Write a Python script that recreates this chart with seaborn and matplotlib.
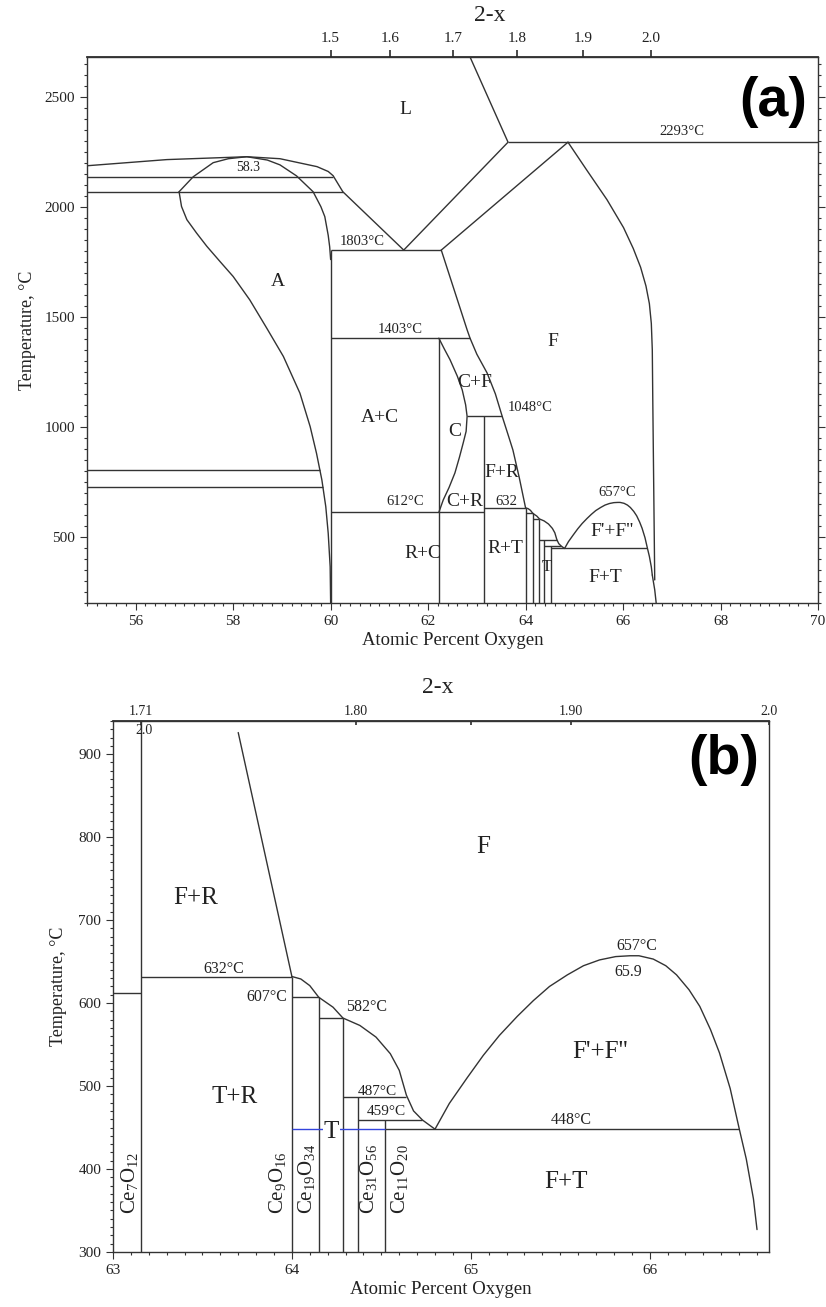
import numpy as np
import matplotlib
matplotlib.use("Agg")
import matplotlib.pyplot as plt
import seaborn as sns
from matplotlib.ticker import MultipleLocator

sns.set_theme(style="ticks")
plt.rcParams['font.family'] = ['Liberation Serif', 'DejaVu Serif']
plt.rcParams['mathtext.fontset'] = 'custom'
plt.rcParams['mathtext.rm'] = 'Liberation Serif'
plt.rcParams['mathtext.it'] = 'Liberation Serif:italic'

LC = '#333333'
TC = '#222222'

# ---------------- panel (a): full Ce-O diagram ----------------
LIQ_A_X = [55.0, 56.64, 58.28, 58.96, 59.72, 59.95, 60.05, 60.25, 61.5]
LIQ_A_T = [2186, 2214, 2227, 2218, 2182, 2160, 2141, 2068, 1803]
LIQ_B_X = [61.5, 63.64, 62.86]
LIQ_B_T = [1803, 2293, 2680]
DOME_X = [56.89, 57.18, 57.59, 57.9, 58.28, 58.7, 58.96, 59.3, 59.64, 59.8, 59.88, 59.95, 59.98, 60.0]
DOME_T = [2068, 2136, 2200, 2218, 2227, 2212, 2190, 2140, 2068, 2000, 1955, 1870, 1818, 1760]
A_LEFT_X = [56.89, 56.94, 57.05, 57.25, 57.46, 57.73, 58.0, 58.34, 58.69, 59.03, 59.37,
            59.58, 59.71, 59.82, 59.90, 59.95, 59.99, 60.0]
A_LEFT_T = [2068, 2001, 1941, 1880, 1820, 1751, 1683, 1577, 1448, 1320, 1153,
            1001, 880, 759, 638, 517, 365, 200]
F_SOL_X = [62.27, 64.87]
F_SOL_T = [1803, 2293]
F_RIGHT_X = [64.87, 65.25, 65.67, 66.01, 66.21, 66.36, 66.47, 66.54, 66.58, 66.60, 66.61, 66.65]
F_RIGHT_T = [2293, 2168, 2032, 1905, 1810, 1725, 1640, 1560, 1470, 1350, 1123, 305]
F_LEFT_X = [62.27, 62.80, 62.86, 63.0, 63.21, 63.38, 63.52, 63.64, 63.74, 63.87, 64.0]
F_LEFT_T = [1803, 1441, 1403, 1330, 1245, 1150, 1048, 965, 895, 770, 632]
C_X = [62.22, 62.33, 62.45, 62.60, 62.70, 62.77, 62.80, 62.78, 62.72, 62.64, 62.55, 62.43, 62.31, 62.22]
C_T = [1403, 1355, 1305, 1230, 1168, 1100, 1048, 980, 927, 860, 791, 725, 668, 612]
FFD_TAIL_X = [66.60, 66.65, 66.68]
FFD_TAIL_T = [327, 260, 200]

TIE_A_T = [2136, 2068, 805, 727, 1803, 2293, 1403, 1048, 612, 632]
TIE_A_X0 = [55.0, 55.0, 55.0, 55.0, 60.0, 63.64, 60.0, 62.80, 60.0, 63.15]
TIE_A_X1 = [60.05, 60.25, 59.78, 59.84, 62.27, 70.0, 62.86, 63.52, 63.15, 64.0]
VERT_A_X = [60.0, 62.22, 63.15]
VERT_A_TOP = [1803, 1403, 1048]

TOP_A_POS = [60.0, 61.22, 62.51, 63.82, 65.18, 66.57]
TOP_A_LAB = ['1.5', '1.6', '1.7', '1.8', '1.9', '2.0']

# ---------------- fine structure (shared by both panels) ----------------
FINE_X = [64.0, 64.05, 64.10, 64.15, 64.23, 64.285, 64.38, 64.47, 64.55, 64.60, 64.64, 64.68, 64.73, 64.80]
FINE_T = [632, 629, 621, 607, 595, 582, 573, 559, 539, 519, 489, 470, 459, 448]
COMP_X = [64.0, 64.15, 64.285, 64.37, 64.52]
COMP_TOP = [632, 607, 582, 487, 459]
SHELF_T = [607, 582, 487, 459, 448]
SHELF_X0 = [64.0, 64.15, 64.285, 64.37, 64.52]
SHELF_X1 = [64.15, 64.285, 64.64, 64.73, 66.50]
FFD_X = [64.80, 64.88, 64.98, 65.07, 65.16, 65.26, 65.35, 65.44, 65.54, 65.63, 65.72, 65.81, 65.89,
         65.94, 66.02, 66.09, 66.15, 66.22, 66.28, 66.34, 66.39, 66.45, 66.50, 66.54, 66.58, 66.60]
FFD_T = [448, 479, 510, 537, 561, 584, 603, 620, 634, 645, 652, 656, 657,
         657, 653, 645, 634, 616, 596, 568, 540, 497, 449, 412, 364, 327]

# ---------------- panel (b) extra ----------------
CE7_X = 63.156
FR_X = [63.70, 64.0]
FR_T = [926, 632]
TIE_B_T = [612, 632]
TIE_B_X0 = [63.0, 63.156]
TIE_B_X1 = [63.156, 64.0]
BLUE_T = 448
BLUE_X = [64.0, 64.52]
TOP_B_POS = [63.156, 64.36, 65.0, 65.56, 66.667]
TOP_B_LAB = ['1.71', '1.80', '', '1.90', '2.0']

XLIM_A, YLIM_A = (55, 70), (200, 2680)
XLIM_B, YLIM_B = (63, 66.667), (300, 940)


def curve(ax, xs, ts, color=LC):
    sns.lineplot(x=xs, y=ts, ax=ax, sort=False, estimator=None, color=color, lw=1.0)


def draw_fine(ax, tmin):
    curve(ax, FINE_X, FINE_T)
    curve(ax, FFD_X, FFD_T)
    ax.vlines(COMP_X, tmin, COMP_TOP, colors=LC, lw=1.0)
    ax.hlines(SHELF_T, SHELF_X0, SHELF_X1, colors=LC, lw=1.0)


def style_axes(ax):
    for s in ax.spines.values():
        s.set_color(LC)
        s.set_linewidth(1.0)
    ax.tick_params(which='both', direction='out', colors=LC, labelcolor=TC,
                   labelsize=11, width=0.8)
    ax.tick_params(which='major', length=5)
    ax.tick_params(which='minor', length=2.5)


fig = plt.figure(figsize=(8.26, 13.07), dpi=100)

# ================= (a) =================
ax = fig.add_axes([0.1053, 0.5386, 0.885, 0.4178])
curve(ax, LIQ_A_X, LIQ_A_T)
curve(ax, LIQ_B_X, LIQ_B_T)
curve(ax, DOME_X, DOME_T)
curve(ax, A_LEFT_X, A_LEFT_T)
curve(ax, F_SOL_X, F_SOL_T)
curve(ax, F_RIGHT_X, F_RIGHT_T)
curve(ax, F_LEFT_X, F_LEFT_T)
curve(ax, C_X, C_T)
curve(ax, FFD_TAIL_X, FFD_TAIL_T)
ax.hlines(TIE_A_T, TIE_A_X0, TIE_A_X1, colors=LC, lw=1.0)
ax.vlines(VERT_A_X, YLIM_A[0], VERT_A_TOP, colors=LC, lw=1.0)
draw_fine(ax, YLIM_A[0])

ax.set_xlim(*XLIM_A)
ax.set_ylim(*YLIM_A)
ax.xaxis.set_major_locator(MultipleLocator(2))
ax.xaxis.set_minor_locator(MultipleLocator(0.2))
ax.yaxis.set_major_locator(MultipleLocator(500))
ax.yaxis.set_minor_locator(MultipleLocator(50))
style_axes(ax)
ax.tick_params(axis='y', which='both', right=True)
ax.set_xlabel('Atomic Percent Oxygen', fontsize=13.5, color=TC, labelpad=3)
ax.set_ylabel('Temperature, \u00b0C', fontsize=13, color=TC, labelpad=6)

sec = ax.secondary_xaxis('top')
sec.set_xticks(TOP_A_POS, TOP_A_LAB)
sec.tick_params(direction='out', length=5, labelsize=11, colors=LC, labelcolor=TC)
fig.text(0.593, 0.988, '2-x', fontsize=17, ha='center', va='center', color=TC)

lab_a = [('L', 61.53, 2441, 14), ('A', 58.92, 1659, 14), ('F', 64.56, 1386, 14),
         ('A+C', 61.01, 1041, 14), ('C+F', 62.96, 1200, 14), ('C', 62.55, 977, 14),
         ('F+R', 63.52, 795, 14), ('R+C', 61.90, 427, 14), ('R+T', 63.58, 450, 14),
         ('C+R', 62.76, 659, 14), ('T', 64.44, 364, 12), ('F+T', 65.63, 314, 14),
         ("F'+F''", 65.77, 523, 14),
         ('58.3', 58.30, 2177, 10), ('1803\u00b0C', 60.64, 1841, 10.5),
         ('1403\u00b0C', 61.42, 1441, 10.5), ('612\u00b0C', 61.53, 659, 10.5),
         ('632', 63.60, 659, 10.5), ('1048\u00b0C', 64.09, 1086, 10.5),
         ('657\u00b0C', 65.88, 700, 10.5), ('2293\u00b0C', 67.21, 2341, 10.5)]
for txt, x, t, fs in lab_a:
    ax.text(x, t, txt, fontsize=fs, ha='center', va='center', color=TC)
ax.text(0.985, 0.965, '(a)', transform=ax.transAxes, ha='right', va='top',
        fontsize=40, fontweight='bold', family=['Liberation Sans', 'DejaVu Sans'], color='black')

# ================= (b) =================
bx = fig.add_axes([0.1368, 0.0421, 0.7942, 0.4063])
ax_b_tmin = YLIM_B[0]
bx.vlines([CE7_X], ax_b_tmin, YLIM_B[1], colors=LC, lw=1.0)
bx.hlines(TIE_B_T, TIE_B_X0, TIE_B_X1, colors=LC, lw=1.0)
curve(bx, FR_X, FR_T)
draw_fine(bx, ax_b_tmin)
bx.hlines([BLUE_T], BLUE_X[0], BLUE_X[1], colors='#3344dd', lw=1.0, zorder=3)

bx.set_xlim(*XLIM_B)
bx.set_ylim(*YLIM_B)
bx.xaxis.set_major_locator(MultipleLocator(1))
bx.xaxis.set_minor_locator(MultipleLocator(0.1))
bx.yaxis.set_major_locator(MultipleLocator(100))
bx.yaxis.set_minor_locator(MultipleLocator(10))
style_axes(bx)
bx.set_xlabel('Atomic Percent Oxygen', fontsize=13.5, color=TC, labelpad=3)
bx.set_ylabel('Temperature, \u00b0C', fontsize=13, color=TC, labelpad=8)

secb = bx.secondary_xaxis('top')
secb.set_xticks(TOP_B_POS, TOP_B_LAB)
secb.tick_params(direction='in', length=3, labelsize=10, colors=LC, labelcolor=TC, pad=2)
fig.text(0.530, 0.474, '2-x', fontsize=17, ha='center', va='center', color=TC)
bx.text(CE7_X + 0.02, 928, '2.0', fontsize=10, ha='center', va='center', color=TC)

lab_b = [('F+R', 63.46, 727, 18), ('F', 65.07, 788, 18), ('T+R', 63.68, 487, 18),
         ("F'+F''", 65.72, 541, 18), ('F+T', 65.53, 384, 18),
         ('632\u00b0C', 63.62, 641, 11.5), ('607\u00b0C', 63.86, 607, 11.5),
         ('582\u00b0C', 64.42, 595, 11.5), ('487\u00b0C', 64.48, 494, 11),
         ('459\u00b0C', 64.53, 469, 11), ('657\u00b0C', 65.93, 669, 11.5),
         ('65.9', 65.88, 637, 11.5), ('448\u00b0C', 65.56, 459, 11.5)]
for txt, x, t, fs in lab_b:
    bx.text(x, t, txt, fontsize=fs, ha='center', va='center', color=TC)
bx.text(64.22, 445, 'T', fontsize=18, ha='center', va='center', color=TC, zorder=4,
        bbox=dict(facecolor='white', edgecolor='none', pad=0.5))

ce_labels = [(r'Ce$_{7}$O$_{12}$', 63.09, 383), (r'Ce$_{9}$O$_{16}$', 63.92, 383),
             (r'Ce$_{19}$O$_{34}$', 64.08, 388), (r'Ce$_{31}$O$_{56}$', 64.43, 388),
             (r'Ce$_{11}$O$_{20}$', 64.60, 388)]
for txt, x, t in ce_labels:
    bx.text(x, t, txt, fontsize=15, rotation=90, ha='center', va='center', color=TC)
bx.text(0.985, 0.975, '(b)', transform=bx.transAxes, ha='right', va='top',
        fontsize=40, fontweight='bold', family=['Liberation Sans', 'DejaVu Sans'], color='black')

fig.savefig('out.png', dpi=100, facecolor='white')
